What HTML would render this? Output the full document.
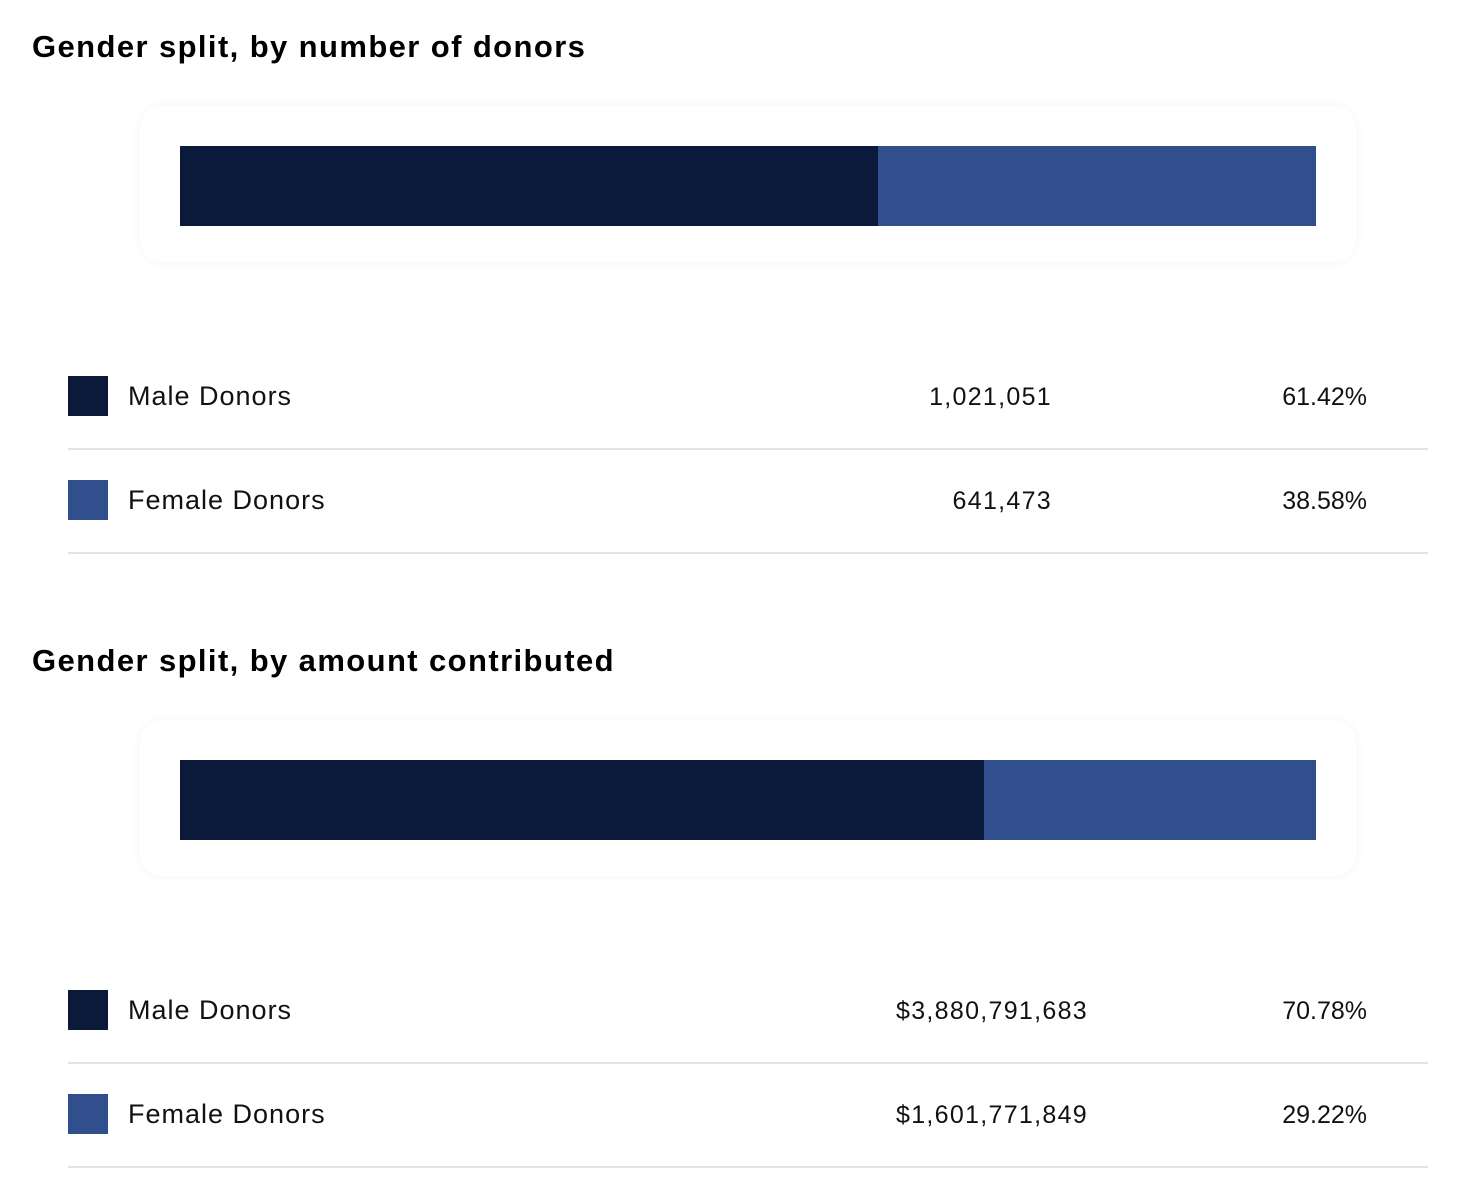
<!DOCTYPE html>
<html><head><meta charset="utf-8"><style>
body{margin:0;width:1462px;height:1190px;background:#fff;font-family:"Liberation Sans",sans-serif;position:relative;overflow:hidden}
.title{position:absolute;left:32px;font-size:31px;font-weight:bold;color:#000;letter-spacing:1.4px;line-height:1}
.card{position:absolute;left:140px;width:1216px;height:156px;border-radius:22px;background:#fff;box-shadow:0 0 10px rgba(0,0,0,0.05)}
.seg{position:absolute;height:80px}
.sw{position:absolute;left:68px;width:40px;height:40px}
.lbl{position:absolute;left:128px;font-size:27px;color:#111;line-height:1;letter-spacing:1px}
.val,.pct{position:absolute;font-size:25px;color:#111;line-height:1;text-align:right}
.val{letter-spacing:1.3px}
.div{position:absolute;left:68px;width:1360px;height:2px;background:#e2e2e2}
</style></head><body>
<div id="root"></div>
<script>
const chartTitles=["Gender split, by number of donors","Gender split, by amount contributed"];
const categories=["Male Donors","Female Donors"];
const valuesCount=[1021051,641473];
const valuesAmount=[3880791683,1601771849];
const valueLabelsCount=["1,021,051","641,473"];
const valueLabelsAmount=["$3,880,791,683","$1,601,771,849"];
const colors=["#0b1a3a","#314e8d"];
const root=document.getElementById('root');
function mk(cls,parent){const e=document.createElement('div');e.className=cls;(parent||root).appendChild(e);return e;}
function section(i,top,values,labels,valRight){
  const t=mk('title');t.style.top=(top+31)+'px';t.textContent=chartTitles[i];
  
  
  const c=mk('card');c.style.top=(top+106)+'px';
  
  
  const total=values.reduce((a,b)=>a+b,0);
  const W=1136;let x=40;
  values.forEach((v,k)=>{
    const s=mk('seg',c);const w=v/total*W;
    s.style.left=x+'px';s.style.top='40px';s.style.width=w+'px';s.style.background=colors[k];
    
    
    x+=w;
  });
  values.forEach((v,k)=>{
    const ry=top+376+k*104;
    const sw=mk('sw');sw.style.top=ry+'px';sw.style.background=colors[k];
    
    
    const l=mk('lbl');l.style.top=(ry+7)+'px';l.textContent=categories[k];
    
    
    const vv=mk('val');vv.style.top=(ry+9)+'px';vv.style.right=(1462-valRight-1)+'px';vv.textContent=labels[k];
    
    
    const p=mk('pct');p.style.top=(ry+9)+'px';p.style.right=(1462-1367)+'px';p.textContent=(v/total*100).toFixed(2)+'%';
    
    
    const d=mk('div');d.style.top=(ry+72)+'px';
    
    
  });
}
section(0,0,valuesCount,valueLabelsCount,1051);
section(1,614,valuesAmount,valueLabelsAmount,1087);
</script>
</body></html>
